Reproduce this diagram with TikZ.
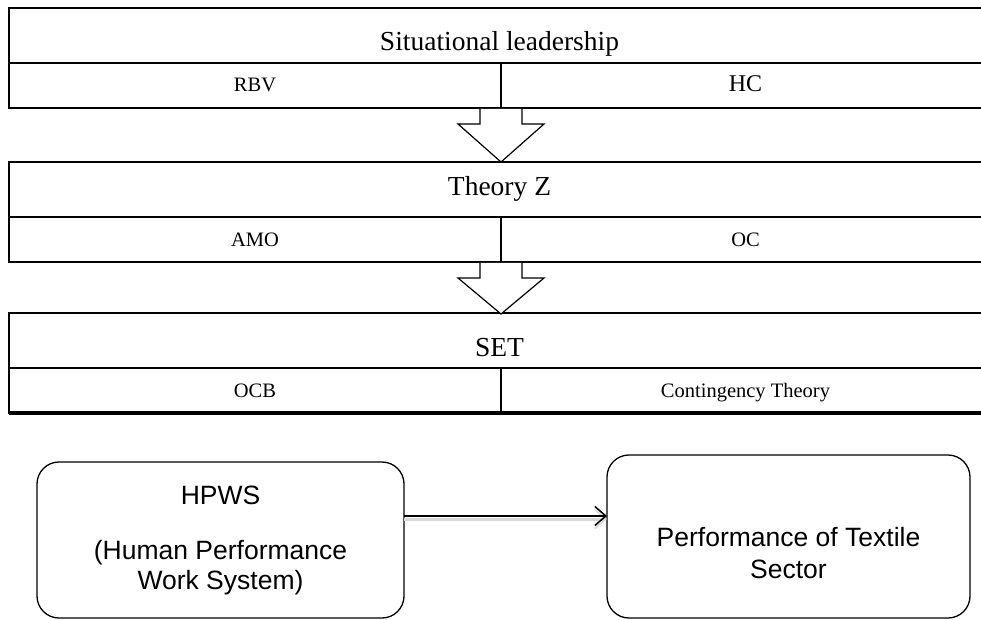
\documentclass[tikz,border=0pt]{standalone}
\usepackage{fontspec}
\setmainfont{Liberation Serif}
\newfontfamily\arialfont{Liberation Sans}
\usetikzlibrary{arrows.meta,positioning}

\begin{document}
\begin{tikzpicture}[
  x=1pt, y=-1pt,
  titlecell/.style={rectangle, draw, line width=1.4pt, inner sep=0pt, outer sep=0pt, minimum width=981pt, text height=43pt, text depth=12pt, font=\fontsize{27.5}{31}\selectfont},
  subcell/.style={rectangle, draw, line width=1.4pt, inner sep=0pt, outer sep=0pt, text height=29pt, text depth=16pt, font=\fontsize{20.5}{24}\selectfont},
  blockarrow/.style={draw, fill=white, line width=1.2pt, line join=miter},
  box/.style={rectangle, rounded corners=22pt, draw, line width=1.3pt, inner sep=0pt, outer sep=0pt, align=center, font=\arialfont\fontsize{26.5}{30}\selectfont},
  arrow/.style={-{Straight Barb[length=11pt, width=19pt, line width=1.5pt]}, line width=1.6pt}
]
\useasboundingbox (0,0) rectangle (981,620);
\clip (0,0) rectangle (981,620);

% first block
\node[titlecell, anchor=north west] (sit) at (9,8) {Situational leadership};
\node[subcell, minimum width=492pt, below right=0pt and 0pt of sit.south west] (rbv) {RBV};
\node[subcell, minimum width=489pt, below right=0pt and 0pt of rbv.north east, font=\fontsize{24}{28}\selectfont] (hc) {HC};

% second block
\node[titlecell, anchor=north west, text height=34pt, text depth=21pt] (thz) at (9,162) {Theory Z};
\node[subcell, minimum width=492pt, below right=0pt and 0pt of thz.south west] (amo) {AMO};
\node[subcell, minimum width=489pt, below right=0pt and 0pt of amo.north east] (oc) {OC};

% third block
\node[titlecell, anchor=north west] (set) at (9,313) {SET};
\node[subcell, minimum width=492pt, below right=0pt and 0pt of set.south west] (ocb) {OCB};
\node[subcell, minimum width=489pt, below right=0pt and 0pt of ocb.north east] (cont) {Contingency Theory};
\draw[line width=3.6pt] (ocb.south west) -- (cont.south east);

% block arrows
\draw[blockarrow] ([xshift=-21pt, yshift=-0.8pt]rbv.south east) -- ++(0,15.2) -- ++(-22,0) -- ++(43,38) -- ++(43,-38) -- ++(-22,0) -- ++(0,-15.2);
\draw[blockarrow] ([xshift=-21pt, yshift=-0.8pt]amo.south east) -- ++(0,15.2) -- ++(-22,0) -- ++(43,36) -- ++(43,-36) -- ++(-22,0) -- ++(0,-15.2);

% model
\node[box, minimum width=367pt, minimum height=156pt] (hpws) at (220.5,540) {HPWS\\[25pt](Human Performance\\Work System)};
\node[box, minimum width=363pt, minimum height=163pt] (perf) at (788.5,536.5) {};
\node[align=center, font=\arialfont\fontsize{26.5}{32}\selectfont] (perftext) at ([yshift=-17pt]perf.center) {Performance of Textile\\Sector};

\draw[arrow, preaction={draw=gray!30, line width=3pt, transform canvas={yshift=-3pt}}] ([yshift=24pt]hpws.east) -- ([yshift=20.5pt]perf.west);

\end{tikzpicture}
\end{document}
